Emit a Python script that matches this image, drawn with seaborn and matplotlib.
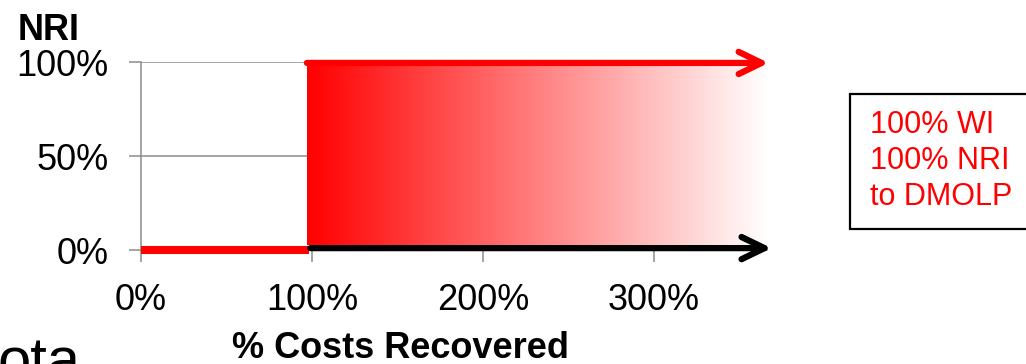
import numpy as np
import pandas as pd
import seaborn as sns
import matplotlib
matplotlib.use("Agg")
import matplotlib.pyplot as plt
from matplotlib.patches import Rectangle

# ---- data ----
x_ticks = [0, 1, 2, 3]
x_labels = ["0%", "100%", "200%", "300%"]
y_ticks = [0, 0.5, 1.0]
y_labels = ["0%", "50%", "100%"]
payout_point = 0.97        # % costs recovered where NRI switches
x_end = 3.67               # arrows run to here
nri_before = 0.0
nri_after = 1.0
black_level = 0.01
legend_lines = ["100% WI", "100% NRI", "to DMOLP"]
x_title = "% Costs Recovered"
y_title = "NRI"

sns.set_theme(style="white")
plt.rcParams['font.family'] = ['Liberation Sans', 'DejaVu Sans']
plt.rcParams['text.color'] = 'black'

W, H = 1026, 364
fig = plt.figure(figsize=(W / 100, H / 100), dpi=100)
fig.patch.set_facecolor("white")
ax = fig.add_axes([141 / W, 1 - 250 / H, (767 - 141) / W, (250 - 62) / H])
ax.set_facecolor("white")
ax.set_xlim(0, 3.66)
ax.set_ylim(0, 1)

grey = "#8c8c8c"
# grid lines
for yv in y_ticks[1:]:
    ax.axhline(yv, color=grey, lw=1.1, zorder=1)

# gradient region (NRI after payout)
grad = np.linspace(0, 1, 400)
img = np.zeros((2, grad.size, 3))
img[..., 0] = 1.0
img[..., 1] = grad
img[..., 2] = grad
ax.imshow(img, extent=[payout_point, 3.66, 0.025, nri_after], aspect="auto",
          origin="lower", zorder=2, interpolation="bilinear")

# red line before payout (0% NRI)
before = pd.DataFrame({"x": [0, payout_point + 0.01], "y": [nri_before, nri_before]})
sns.lineplot(data=before, x="x", y="y", color="red", lw=5.8, ax=ax,
             zorder=4, clip_on=False, solid_capstyle="butt")

# arrows
ax.annotate("", xy=(x_end, nri_after - 0.005), xytext=(payout_point, nri_after - 0.005),
            arrowprops=dict(arrowstyle="->,head_length=1.65,head_width=0.8",
                            color="red", lw=4.5, shrinkA=0, shrinkB=0,
                            mutation_scale=10, capstyle="round", joinstyle="round"),
            annotation_clip=False, zorder=5)
ax.annotate("", xy=(x_end + 0.017, black_level), xytext=(payout_point + 0.02, black_level),
            arrowprops=dict(arrowstyle="->,head_length=1.65,head_width=0.8",
                            color="black", lw=4.5, shrinkA=0, shrinkB=0,
                            mutation_scale=10, capstyle="round", joinstyle="round"),
            annotation_clip=False, zorder=5)

# axes styling
for s in ["top", "right"]:
    ax.spines[s].set_visible(False)
ax.spines["left"].set_color(grey)
ax.spines["left"].set_linewidth(1.1)
ax.spines["bottom"].set_color(grey)
ax.spines["bottom"].set_linewidth(1.1)
ax.set_xticks(x_ticks)
ax.set_xticklabels(x_labels)
ax.set_yticks(y_ticks)
ax.set_yticklabels(y_labels)
ax.tick_params(axis="both", direction="out", length=8.5, width=1.1, color=grey,
               labelsize=26, labelcolor="black")
ax.tick_params(axis="y", pad=15, left=True)
ax.tick_params(axis="x", pad=15, bottom=True)
ax.set_xlabel("")
ax.set_ylabel("")

# titles
fig.text(18 / W, 1 - 40 / H, y_title, fontsize=26, fontweight="bold",
         ha="left", va="baseline", color="black")
fig.text(401 / W, 1 - 358 / H, x_title, fontsize=26, fontweight="bold",
         ha="center", va="baseline", color="black")

# cut-off slide text at bottom-left
fig.text(-2 / W, 1 - 380 / H, "ota", fontsize=43, ha="left", va="baseline",
         color="black")

# legend box
fig.patches.append(Rectangle((850 / W, 1 - 229 / H), 200 / W, 135 / H,
                             transform=fig.transFigure, facecolor="white",
                             edgecolor="black", lw=1.6, clip_on=False))
fig.text(870 / W, 1 - 161 / H, "\n".join(legend_lines), color="red", fontsize=22,
         ha="left", va="center", linespacing=1.27)

fig.savefig("out.png", dpi=100, facecolor="white")
